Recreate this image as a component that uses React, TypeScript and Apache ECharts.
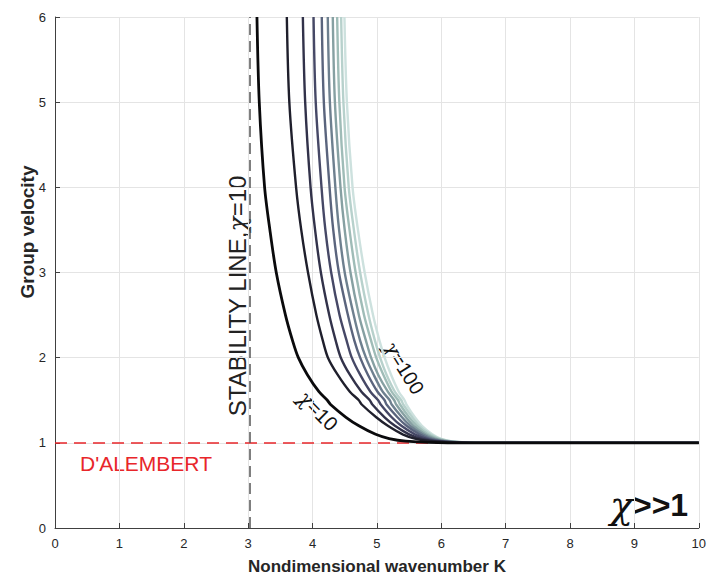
import React, { useEffect, useRef } from "react";
import * as echarts from "echarts";

// Chi values of the family of curves (darkest first)
const chiValues = [10, 20, 30, 40, 50, 60, 70, 80, 90, 100];

const velocityLevels = [6, 5, 4, 3.5, 3, 2.5, 2.2, 2, 1.8, 1.6, 1.5, 1.45, 1.3, 1.2, 1.1, 1.05, 1.02, 1.0, 1.0];

// Wavenumber K read at each velocity level, one list per chi
const k10 = [3.137, 3.173, 3.256, 3.338, 3.437, 3.58, 3.69, 3.78, 3.92, 4.1, 4.23, 4.28, 4.52, 4.72, 4.98, 5.19, 5.45, 6.1, 10];
const k20 = [3.601, 3.64, 3.745, 3.825, 3.93, 4.06, 4.16, 4.24, 4.39, 4.58, 4.72, 4.765, 4.99, 5.17, 5.4, 5.59, 5.83, 6.41, 10];
const k30 = [3.85, 3.886, 3.97, 4.04, 4.13, 4.26, 4.36, 4.44, 4.58, 4.76, 4.89, 4.93, 5.12, 5.28, 5.5, 5.68, 5.9, 6.45, 10];
const k40 = [4.016, 4.05, 4.14, 4.2, 4.29, 4.42, 4.53, 4.61, 4.74, 4.9, 5.02, 5.06, 5.23, 5.38, 5.59, 5.76, 5.96, 6.48, 10];
const k50 = [4.144, 4.176, 4.265, 4.322, 4.41, 4.55, 4.65, 4.74, 4.86, 5.01, 5.12, 5.15, 5.32, 5.46, 5.66, 5.81, 6.0, 6.5, 10];
const k60 = [4.237, 4.27, 4.355, 4.413, 4.5, 4.64, 4.74, 4.83, 4.95, 5.09, 5.2, 5.23, 5.39, 5.52, 5.71, 5.86, 6.05, 6.52, 10];
const k70 = [4.315, 4.348, 4.435, 4.5, 4.59, 4.72, 4.83, 4.91, 5.02, 5.17, 5.27, 5.3, 5.45, 5.57, 5.75, 5.9, 6.08, 6.54, 10];
const k80 = [4.383, 4.417, 4.498, 4.575, 4.67, 4.8, 4.91, 4.99, 5.1, 5.23, 5.33, 5.36, 5.5, 5.62, 5.79, 5.94, 6.11, 6.55, 10];
const k90 = [4.445, 4.48, 4.563, 4.643, 4.74, 4.87, 4.97, 5.05, 5.15, 5.28, 5.38, 5.41, 5.55, 5.66, 5.83, 5.97, 6.14, 6.57, 10];
const k100 = [4.496, 4.534, 4.622, 4.706, 4.81, 4.94, 5.04, 5.12, 5.22, 5.34, 5.43, 5.46, 5.59, 5.7, 5.86, 5.99, 6.15, 6.58, 10];

const kCurves = [k10, k20, k30, k40, k50, k60, k70, k80, k90, k100];

// Reference lines
const dalembertVelocity = 1;
const stabilityK = 3.03;

// Axis ticks
const xMin = 0, xMax = 10, xStep = 1;
const yMin = 0, yMax = 6, yStep = 1;

const curveColors = ["#0a0a0c", "#1f1f2c", "#32324a", "#464866", "#5a647d", "#6e808f", "#86a0a2", "#9fbcb7", "#b7d1cc", "#cde1de"];

export default function App() {
  const ref = useRef<HTMLDivElement>(null);
  useEffect(() => {
    if (!ref.current) return;
    const chart = echarts.init(ref.current, null, { renderer: "svg" });
    const font = "'Liberation Sans', Arial, sans-serif";
    const curveSeries = kCurves
      .map((ks, i) => ({
        type: "line",
        name: "chi=" + chiValues[i],
        data: ks.map((k, j) => [k, velocityLevels[j]]),
        smooth: 0.3,
        showSymbol: false,
        symbol: "none",
        lineStyle: { color: curveColors[i], width: i === 0 ? 2.8 : 2.4 },
        z: 10 + (kCurves.length - i),
      }))
      .reverse();
    chart.setOption({
      animation: false,
      grid: { left: 55, right: 9, top: 17, bottom: 51, containLabel: false },
      xAxis: {
        type: "value",
        min: xMin,
        max: xMax,
        interval: xStep,
        axisLine: { show: true, onZero: false, lineStyle: { color: "#404040", width: 1 } },
        axisTick: { show: true, inside: true, length: 5, lineStyle: { color: "#404040" } },
        axisLabel: { color: "#262626", fontSize: 13, fontFamily: font, margin: 9 },
        splitLine: { show: true, lineStyle: { color: "#e4e4e4", width: 1 } },
      },
      yAxis: {
        type: "value",
        min: yMin,
        max: yMax,
        interval: yStep,
        axisLine: { show: true, onZero: false, lineStyle: { color: "#404040", width: 1 } },
        axisTick: { show: true, inside: true, length: 5, lineStyle: { color: "#404040" } },
        axisLabel: { color: "#262626", fontSize: 13, fontFamily: font, margin: 9 },
        splitLine: { show: true, lineStyle: { color: "#e4e4e4", width: 1 } },
      },
      series: [
        {
          type: "line",
          data: [],
          z: 3,
          markLine: {
            silent: true,
            symbol: "none",
            label: { show: false },
            data: [
              { yAxis: dalembertVelocity, lineStyle: { color: "#e8262a", type: [12, 7], width: 1.6 } },
              { xAxis: stabilityK, lineStyle: { color: "#555555", type: [11, 6], width: 1.5 } },
            ],
          },
        },
        ...curveSeries,
      ],
      graphic: [
        {
          type: "text",
          x: 27,
          y: 232,
          rotation: Math.PI / 2,
          style: { text: "Group velocity", font: `bold 19px ${font}`, fill: "#262626", textAlign: "center", textVerticalAlign: "middle" },
        },
        {
          type: "text",
          x: 377,
          y: 566,
          style: { text: "Nondimensional wavenumber K", font: `bold 17px ${font}`, fill: "#262626", textAlign: "center", textVerticalAlign: "middle" },
        },
        {
          type: "text",
          x: 146,
          y: 463,
          style: { text: "D'ALEMBERT", font: `21px ${font}`, fill: "#e8262a", textAlign: "center", textVerticalAlign: "middle" },
        },
        {
          type: "text",
          x: 237,
          y: 296,
          rotation: Math.PI / 2,
          style: {
            text: "{a|STABILITY LINE,}{b|χ}{a|=10}",
            textAlign: "center",
            textVerticalAlign: "middle",
            rich: {
              a: { font: `24px ${font}`, fill: "#222" },
              b: { font: `italic 25px 'DejaVu Serif', serif`, fill: "#222" },
            },
          },
        },
        {
          type: "text",
          x: 318,
          y: 411,
          rotation: -Math.PI / 4,
          style: {
            text: "{b|χ}{a|=10}",
            textAlign: "center",
            textVerticalAlign: "middle",
            rich: {
              a: { font: `20px ${font}`, fill: "#111" },
              b: { font: `italic 21px 'DejaVu Serif', serif`, fill: "#111" },
            },
          },
        },
        {
          type: "text",
          x: 404,
          y: 368,
          rotation: -(58 * Math.PI) / 180,
          style: {
            text: "{b|χ}{a|=100}",
            textAlign: "center",
            textVerticalAlign: "middle",
            rich: {
              a: { font: `20px ${font}`, fill: "#111" },
              b: { font: `italic 21px 'DejaVu Serif', serif`, fill: "#111" },
            },
          },
        },
        {
          type: "text",
          x: 649,
          y: 505,
          style: {
            text: "{b|χ}{a|>>1}",
            textAlign: "center",
            textVerticalAlign: "middle",
            rich: {
              a: { font: `bold 32px ${font}`, fill: "#111" },
              b: { font: `italic 38px 'DejaVu Serif', serif`, fill: "#111" },
            },
          },
        },
      ],
    });
    return () => chart.dispose();
  }, []);
  return <div ref={ref} style={{ width: 709, height: 579, position: "absolute", left: 0, top: 0 }} />;
}
